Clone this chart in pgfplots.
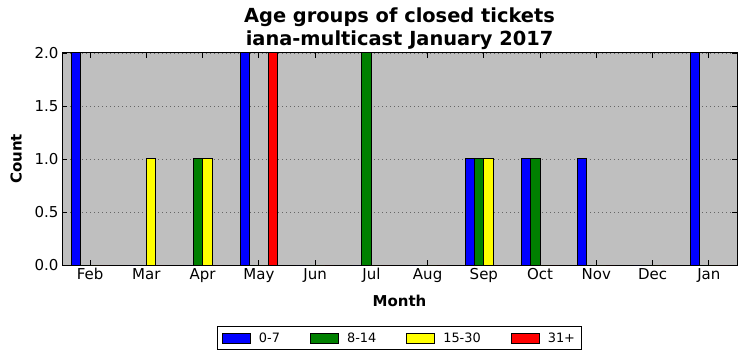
\documentclass[border=0pt]{standalone}
\usepackage{pgfplots}
\pgfplotsset{compat=1.18}
\usepackage{fontspec}
\setmainfont{DejaVu Sans}
\definecolor{bgg}{RGB}{191,191,191}
\definecolor{mblue}{RGB}{0,0,255}
\definecolor{mgreen}{RGB}{0,128,0}
\definecolor{myellow}{RGB}{255,255,0}
\definecolor{mred}{RGB}{255,0,0}
\begin{document}
\begin{tikzpicture}
\useasboundingbox (0,0) rectangle (746pt,361pt);
\begin{axis}[
  at={(62pt,96pt)}, anchor=south west,
  scale only axis, width=675pt, height=212pt,
  axis background/.style={fill=bgg},
  xmin=-0.5, xmax=11.5, ymin=0, ymax=2,
  ybar=0pt, bar width=0.167,
  xtick={0,...,11},
  xticklabels={Feb,Mar,Apr,May,Jun,Jul,Aug,Sep,Oct,Nov,Dec,Jan},
  ytick={0,0.5,1,1.5,2},
  yticklabel style={/pgf/number format/.cd, fixed, fixed zerofill, precision=1, assume math mode=true},
  tick label style={font=\fontsize{15}{17}\selectfont},
  tick pos=both, tick align=inside, major tick length=5pt,
  every tick/.style={black, line width=0.8pt},
  axis line style={line width=1pt},
  ymajorgrids, grid style={gray!80!black, line width=0.6pt, dash pattern=on 1pt off 3pt},
  xlabel={\bfseries Month}, ylabel={\bfseries Count},
  xlabel shift=5pt, ylabel shift=6pt,
  label style={font=\fontsize{15}{17}\selectfont\bfseries},
  title={Age groups of closed tickets\\iana-multicast January 2017},
  title style={align=center, font=\fontsize{19.4}{23}\selectfont\bfseries, yshift=-6pt},
  legend columns=4,
  legend style={at={(0.5,-0.2877)}, anchor=north, draw=black, line width=1pt,
    font=\fontsize{12.9}{15}\selectfont, inner sep=4pt,
    /tikz/every odd column/.style={column sep=6pt},
    /tikz/every even column/.style={column sep=28pt}},
  legend image code/.code={\draw[#1,draw=black,line width=1pt] (0pt,-5pt) rectangle (28pt,5pt);},
]
\addplot[fill=mblue, draw=black, line width=1pt] coordinates {(0,2) (1,0) (2,0) (3,2) (4,0) (5,0) (6,0) (7,1) (8,1) (9,1) (10,0) (11,2)};
\addplot[fill=mgreen, draw=black, line width=1pt] coordinates {(0,0) (1,0) (2,1) (3,0) (4,0) (5,2) (6,0) (7,1) (8,1) (9,0) (10,0) (11,0)};
\addplot[fill=myellow, draw=black, line width=1pt] coordinates {(0,0) (1,1) (2,1) (3,0) (4,0) (5,0) (6,0) (7,1) (8,0) (9,0) (10,0) (11,0)};
\addplot[fill=mred, draw=black, line width=1pt] coordinates {(0,0) (1,0) (2,0) (3,2) (4,0) (5,0) (6,0) (7,0) (8,0) (9,0) (10,0) (11,0)};
\legend{0-7,8-14,15-30,31+}
\end{axis}
\end{tikzpicture}
\end{document}
